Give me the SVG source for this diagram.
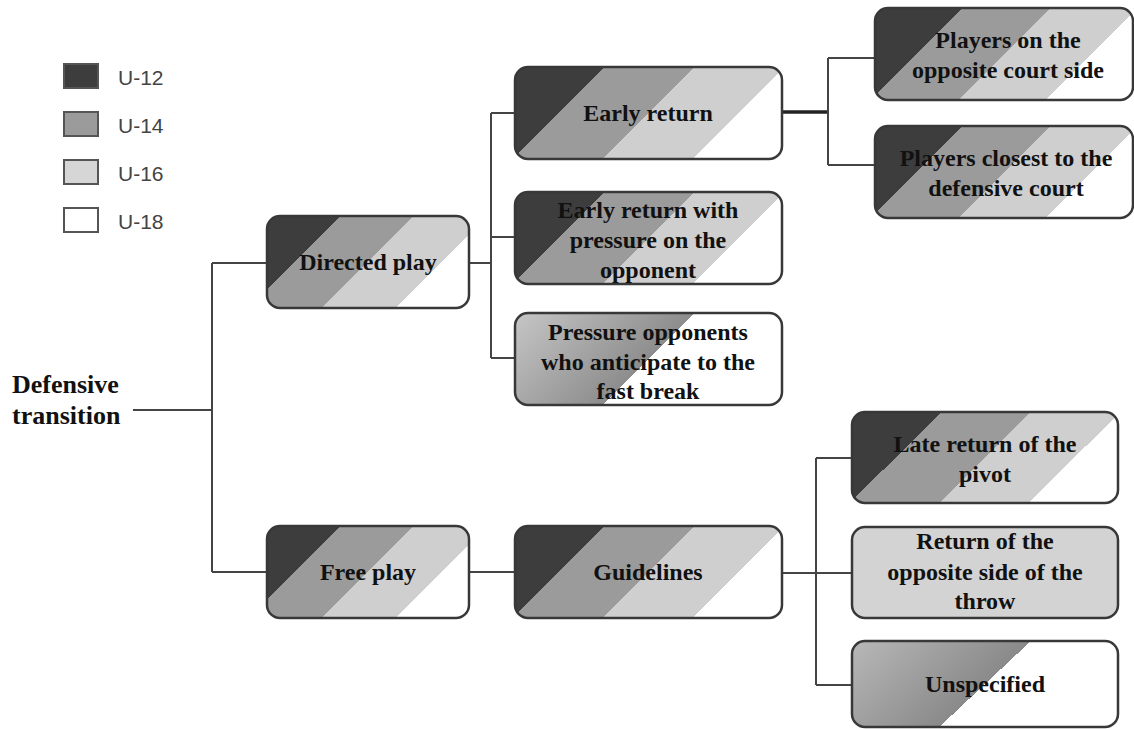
<svg xmlns="http://www.w3.org/2000/svg" width="1134" height="729" viewBox="0 0 1134 729">
<style>
.box{stroke:#383838;stroke-width:2.5}
.t{font-family:"Liberation Serif","Times New Roman",serif;font-weight:bold;font-size:24px;fill:#111;text-anchor:middle}
.lg{font-family:"Liberation Sans",Arial,sans-serif;font-size:21px;fill:#444}
.leg{stroke:#555;stroke-width:2}
.c{stroke:#444;stroke-width:2;fill:none}
</style>
<defs>
<linearGradient id="sA" x1="0" y1="0" x2="1.2054" y2="0.549">
<stop offset="0" stop-color="#3d3d3d"/><stop offset="0.25" stop-color="#3d3d3d"/>
<stop offset="0.25" stop-color="#9b9b9b"/><stop offset="0.5" stop-color="#9b9b9b"/>
<stop offset="0.5" stop-color="#cfcfcf"/><stop offset="0.75" stop-color="#cfcfcf"/>
<stop offset="0.75" stop-color="#ffffff"/><stop offset="1" stop-color="#ffffff"/>
</linearGradient>
<linearGradient id="sB" x1="0" y1="0" x2="1.2019" y2="0.4141">
<stop offset="0" stop-color="#3d3d3d"/><stop offset="0.25" stop-color="#3d3d3d"/>
<stop offset="0.25" stop-color="#9b9b9b"/><stop offset="0.5" stop-color="#9b9b9b"/>
<stop offset="0.5" stop-color="#cfcfcf"/><stop offset="0.75" stop-color="#cfcfcf"/>
<stop offset="0.75" stop-color="#ffffff"/><stop offset="1" stop-color="#ffffff"/>
</linearGradient>
<linearGradient id="sC" x1="0" y1="0" x2="1.2036" y2="0.4292">
<stop offset="0" stop-color="#3d3d3d"/><stop offset="0.25" stop-color="#3d3d3d"/>
<stop offset="0.25" stop-color="#9b9b9b"/><stop offset="0.5" stop-color="#9b9b9b"/>
<stop offset="0.5" stop-color="#cfcfcf"/><stop offset="0.75" stop-color="#cfcfcf"/>
<stop offset="0.75" stop-color="#ffffff"/><stop offset="1" stop-color="#ffffff"/>
</linearGradient>
<linearGradient id="sP" x1="0" y1="0" x2="1.2019" y2="0.4141">
<stop offset="0" stop-color="#c6c6c6"/><stop offset="0.5" stop-color="#8d8d8d"/>
<stop offset="0.5" stop-color="#ffffff"/><stop offset="1" stop-color="#ffffff"/>
</linearGradient>
<linearGradient id="sU" x1="0" y1="0" x2="1.2019" y2="0.4141">
<stop offset="0" stop-color="#b8b8b8"/><stop offset="0.5" stop-color="#8a8a8a"/>
<stop offset="0.5" stop-color="#ffffff"/><stop offset="1" stop-color="#ffffff"/>
</linearGradient>
</defs>
<rect width="1134" height="729" fill="#ffffff"/>

<g id="legend">
<rect class="leg" x="64" y="64" width="34" height="24" fill="#3d3d3d"/>
<text class="lg" x="118" y="85">U-12</text>
<rect class="leg" x="64" y="112" width="34" height="24" fill="#9b9b9b"/>
<text class="lg" x="118" y="133">U-14</text>
<rect class="leg" x="64" y="160" width="34" height="24" fill="#d6d6d6"/>
<text class="lg" x="118" y="181">U-16</text>
<rect class="leg" x="64" y="208" width="34" height="24" fill="#ffffff"/>
<text class="lg" x="118" y="229">U-18</text>
</g>

<g id="connectors">
<path class="c" d="M133 410H212M212 263V572M212 263H267M212 572H267"/>
<path class="c" d="M469 263H491M491 113V358M491 113H515M491 237H515M491 358H515"/>
<path class="c" d="M782 112H828" style="stroke-width:3.5;stroke:#222"/>
<path class="c" d="M828 58V165M828 58H875M828 165H875"/>
<path class="c" d="M469 572H515"/>
<path class="c" d="M782 573H816M816 458V685M816 458H852M816 573H852M816 685H852"/>
</g>

<g id="root">
<text class="t" style="text-anchor:start;font-size:26px" x="12" y="393">Defensive</text>
<text class="t" style="text-anchor:start;font-size:26px" x="12" y="424">transition</text>
</g>

<g id="directed-play">
<rect class="box" x="267" y="216" width="202" height="92" rx="13" fill="url(#sA)"/>
<text class="t" x="368" y="270">Directed play</text>
</g>

<g id="free-play">
<rect class="box" x="267" y="526" width="202" height="92" rx="13" fill="url(#sA)"/>
<text class="t" x="368" y="580">Free play</text>
</g>

<g id="early-return">
<rect class="box" x="515" y="67" width="267" height="92" rx="13" fill="url(#sB)"/>
<text class="t" x="648" y="121">Early return</text>
</g>

<g id="early-return-pressure">
<rect class="box" x="515" y="192" width="267" height="92" rx="13" fill="url(#sB)"/>
<text class="t" x="648" y="218">Early return with</text>
<text class="t" x="648" y="248">pressure on the</text>
<text class="t" x="648" y="278">opponent</text>
</g>

<g id="pressure-opponents">
<rect class="box" x="515" y="313" width="267" height="92" rx="13" fill="url(#sP)"/>
<text class="t" x="648" y="340">Pressure opponents</text>
<text class="t" x="648" y="370">who anticipate to the</text>
<text class="t" x="648" y="399">fast break</text>
</g>

<g id="guidelines">
<rect class="box" x="515" y="526" width="267" height="92" rx="13" fill="url(#sB)"/>
<text class="t" x="648" y="580">Guidelines</text>
</g>

<g id="players-opposite">
<rect class="box" x="875" y="8" width="258" height="92" rx="13" fill="url(#sC)"/>
<text class="t" x="1008" y="48">Players on the</text>
<text class="t" x="1008" y="78">opposite court side</text>
</g>

<g id="players-closest">
<rect class="box" x="875" y="126" width="258" height="92" rx="13" fill="url(#sC)"/>
<text class="t" x="1006" y="166">Players closest to the</text>
<text class="t" x="1006" y="196">defensive court</text>
</g>

<g id="late-return">
<rect class="box" x="852" y="412" width="266" height="91" rx="13" fill="url(#sB)"/>
<text class="t" x="985" y="452">Late return of the</text>
<text class="t" x="985" y="482">pivot</text>
</g>

<g id="return-opposite">
<rect class="box" x="852" y="527" width="266" height="91" rx="13" fill="#d3d3d3"/>
<text class="t" x="985" y="549">Return of the</text>
<text class="t" x="985" y="580">opposite side of the</text>
<text class="t" x="985" y="609">throw</text>
</g>

<g id="unspecified">
<rect class="box" x="852" y="641" width="266" height="86" rx="13" fill="url(#sU)"/>
<text class="t" x="985" y="692">Unspecified</text>
</g>
</svg>
